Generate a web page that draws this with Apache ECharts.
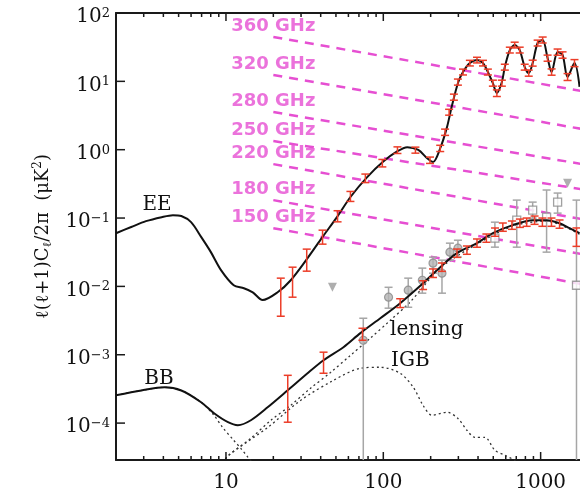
<!DOCTYPE html>
<html><head><meta charset="utf-8">
<script src="https://cdn.jsdelivr.net/npm/echarts@6/dist/echarts.min.js"></script>
<style>html,body{margin:0;padding:0;background:#fff}#c{width:580px;height:492px}</style>
</head><body><div id="c"></div>
<script>
// ---- axis ranges & ticks ----
const X_MIN = 2, X_MAX = 2000;
const Y_MIN = 2.884e-5, Y_MAX = 100;
const xMajorTicks = [10, 100, 1000];
const xTickLabels = ['10', '100', '1000'];
const xMinorTicks = [3,4,5,6,7,8,9,20,30,40,50,60,70,80,90,200,300,400,500,600,700,800,900];
const yTickExps = [-4, -3, -2, -1, 0, 1, 2];

// ---- EE spectrum (solid) ----
const eeL = [2,2.5,3.1,3.9,4.6,5.2,6.0,6.95,8.0,9.3,11.2,13.0,14.8,17.1,21.3,25.8,33,41,51,62,79,100,123,142,167,190,207,230,254,273,299,321,355,394,430,462,497,527,567,592,637,684,736,792,840,890,957,1030,1107,1174,1282,1378,1483,1641,1767];
const eeV = [0.060,0.074,0.090,0.103,0.110,0.107,0.087,0.053,0.032,0.0173,0.0104,0.0094,0.0082,0.0063,0.0082,0.0123,0.0259,0.0525,0.105,0.205,0.397,0.67,0.95,1.09,0.99,0.75,0.66,1.05,2.14,4.4,9.6,13.7,18.5,20.5,18.5,13.7,9.4,6.74,9.8,16.2,28.7,34.0,28.7,16.2,13.2,18.5,36.4,40.3,21.9,13.7,26.8,24.3,11.6,18.5,8.3];

// ---- BB spectrum (solid) ----
const bbL = [2,2.9,4.06,5.2,6.95,8.4,10.3,11.9,14.4,18.4,24.7,33,41.7,55.8,71.5,95.7,128,179,230,294,394,497,665,890,1091,1319,1527,1767];
const bbV = [2.55e-4,3.0e-4,3.34e-4,3.0e-4,2.02e-4,1.39e-4,1.03e-4,9.3e-5,1.10e-4,1.70e-4,3.02e-4,5.36e-4,8.3e-4,1.29e-3,2.07e-3,3.42e-3,5.68e-3,0.0111,0.0191,0.0306,0.0430,0.0601,0.0787,0.093,0.093,0.0841,0.0711,0.0601];

// ---- dotted components ----
const tensorL = [2,2.9,4.06,5.2,6.95,8.4,9.5,11.2,12.4,13.8,15];
const tensorV = [2.55e-4,3.0e-4,3.34e-4,3.0e-4,2.02e-4,1.3e-4,8.7e-5,5.6e-5,4.3e-5,3.16e-5,2.5e-5];
const lensL = [9.5,10.4,14.4,19.3,25.8,34.5,46.2,61.8,82.8,111,148,230,394,665,1091,1767];
const lensV = [2.6e-5,3.38e-5,6.0e-5,1.1e-4,1.82e-4,3.24e-4,5.5e-4,9.8e-4,1.75e-3,3.2e-3,5.9e-3,0.0185,0.0415,0.076,0.090,0.058];
const igbL = [9.5,10.4,18.5,29.9,48.3,71.5,95.7,128,155,179,204,254,298,340,382,442,512,592,684,750];
const igbV = [2.6e-5,3.38e-5,8.7e-5,2.16e-4,4.23e-4,6.34e-4,6.56e-4,5.36e-4,3.34e-4,1.82e-4,1.30e-4,1.44e-4,1.17e-4,7.85e-5,6.2e-5,6.2e-5,4.0e-5,3.4e-5,2.85e-5,2.5e-5];

// ---- red forecast error bars ----
const eeBinL  = [22.3,26.5,32.6,41.1,51.2,61.8,76.9,98.6,123,160,198,230,247,262,281,298,321,355,394,430,462,497,527,567,592,637,684,736,792,840,890,957,1030,1107,1174,1282,1378,1483,1641];
const eeBinLo = [0.00366,0.00695,0.0167,0.0415,0.088,0.175,0.33,0.56,0.88,0.89,0.63,0.94,1.62,3.2,5.3,8.8,12.4,16.8,18.6,16.8,12.4,8.5,6.0,8.5,14.6,26.0,30.8,26.0,14.6,11.9,16.7,32.9,36.4,19.7,12.3,24.1,21.8,10.3,16.4];
const eeBinHi = [0.0132,0.0191,0.0351,0.0665,0.128,0.245,0.44,0.72,1.10,1.09,0.78,1.16,2.0,3.9,6.5,10.8,15.1,20.3,22.5,20.3,15.1,10.4,7.5,10.4,17.8,31.6,37.4,31.6,17.8,14.6,20.4,40.1,44.5,24.2,15.2,29.7,27.0,13.0,20.8];
const bbBinL  = [24.7,41.7,73.7,128,179,207,236,294,340,394,452,513,575,657,738,815,915,1026,1172,1319,1690];
const bbBinLo = [1.03e-4,5.36e-4,1.63e-3,4.9e-3,0.0090,0.0135,0.0166,0.0266,0.0295,0.0374,0.0442,0.0541,0.064,0.0684,0.073,0.0757,0.0809,0.0757,0.0757,0.0709,0.0385];
const bbBinHi = [5.0e-4,1.09e-3,2.44e-3,6.6e-3,0.0121,0.018,0.022,0.0352,0.039,0.0494,0.0584,0.0715,0.0846,0.0905,0.0966,0.100,0.107,0.100,0.100,0.0937,0.0716];

// ---- grey measurements ----
const grayL  = [74.6,108,144,177,207,236,265,298,512,705,890,1091,1282,1690];
const grayV  = [1.63e-3,6.95e-3,8.8e-3,0.0123,0.0219,0.0156,0.0317,0.0362,0.0508,0.093,0.131,0.103,0.171,0.0104];
const grayLo = [Y_MIN,4.8e-3,4.95e-3,7.96e-3,0.0156,7.96e-3,0.0242,0.0268,0.0375,0.0375,0.0997,0.0317,0.118,Y_MIN];
const grayHi = [3.42e-3,9.7e-3,0.0132,0.0185,0.0268,0.0242,0.0429,0.0474,0.087,0.183,0.171,0.257,0.232,0.183];
const grayOpen = [0,0,0,0,0,0,0,0,1,1,1,1,1,1];
const limitL = [47.5, 1483];
const limitV = [9.7e-3, 0.324];

// ---- foreground levels (magenta dashed) ----
const fgNames = ['360 GHz','320 GHz','280 GHz','250 GHz','220 GHz','180 GHz','150 GHz'];
const fgL = [20, 2000];
const fgStart = [44.5, 12.4, 3.55, 1.34, 0.615, 0.183, 0.0711];
const fgEnd   = [6.97, 1.94, 0.596, 0.256, 0.093, 0.0286, 0.0104];

// ---- styling ----
const SERIF = "'DejaVu Serif', serif";
const MAG = '#e64fd2';
const RED = '#ec3d28';
const GRAY = '#a6a6a6';
const AX = '#1a1a1a';

const pairs = (a, b) => a.map((v, i) => [v, b[i]]);
const lg = v => Math.log10(v);

function barRenderer(color, cap, width) {
  return function (params, api) {
    const l = api.value(0), lo = api.value(1), hi = api.value(2);
    const top = api.coord([l, hi]);
    const bot = api.coord([l, Math.max(lo, Y_MIN)]);
    const st = { stroke: color, lineWidth: width };
    const ch = [
      { type: 'line', shape: { x1: top[0], y1: top[1], x2: bot[0], y2: bot[1] }, style: st },
      { type: 'line', shape: { x1: top[0] - cap, y1: top[1], x2: top[0] + cap, y2: top[1] }, style: st }
    ];
    if (lo > Y_MIN * 1.0001) ch.push({ type: 'line', shape: { x1: bot[0] - cap, y1: bot[1], x2: bot[0] + cap, y2: bot[1] }, style: st });
    return { type: 'group', children: ch };
  };
}

const helperX = (pos, showLabel) => ({
  type: 'value', gridIndex: 0, position: pos, min: lg(X_MIN), max: lg(X_MAX),
  axisLine: { show: true, onZero: false, lineStyle: { color: AX, width: 2 } },
  axisTick: { show: false },
  axisLabel: showLabel ? {
    show: true, customValues: xMajorTicks.map(lg), margin: 13,
    fontFamily: SERIF, fontSize: 20, color: '#111',
    formatter: v => { const i = xMajorTicks.findIndex(t => Math.abs(lg(t) - v) < 1e-6); return i >= 0 ? xTickLabels[i] : ''; }
  } : { show: false },
  splitLine: { show: false }
});

const series = [];
fgNames.forEach((n, i) => {
  series.push({ type: 'line', data: [[fgL[0], fgStart[i]], [fgL[1], fgEnd[i]]], symbol: 'none', silent: true,
    lineStyle: { color: MAG, width: 2.5, type: [9, 7] }, z: 2 });
});
series.push({ type: 'scatter', symbolSize: 1, itemStyle: { color: 'rgba(0,0,0,0)' }, z: 3,
  data: fgNames.map((n, i) => ({ name: n, value: [fgL[0], fgStart[i]] })),
  label: { show: true, position: 'inside', offset: [0, -11], formatter: '{b}', color: MAG, fontSize: 18, fontWeight: 'bold', fontFamily: "'DejaVu Sans', sans-serif" } });
series.push({ type: 'line', data: pairs(tensorL, tensorV), symbol: 'none', smooth: 0.3, lineStyle: { color: '#333', width: 1.3, type: [2, 3] }, z: 3 });
series.push({ type: 'line', data: pairs(lensL, lensV), symbol: 'none', smooth: 0.3, lineStyle: { color: '#333', width: 1.3, type: [2, 3] }, z: 3 });
series.push({ type: 'line', data: pairs(igbL, igbV), symbol: 'none', smooth: 0.3, lineStyle: { color: '#333', width: 1.3, type: [2, 3] }, z: 3 });
series.push({ type: 'custom', renderItem: barRenderer(GRAY, 4, 1.5), encode: { x: 0, y: [1, 2] }, z: 4,
  data: grayL.map((l, i) => [l, grayLo[i], grayHi[i]]) });
series.push({ type: 'scatter', z: 5,
  data: grayL.map((l, i) => ({ value: [l, grayV[i]], symbol: grayOpen[i] ? 'rect' : 'circle', symbolSize: 8,
    itemStyle: grayOpen[i] ? { color: '#fff', borderColor: '#8a8a8a', borderWidth: 1.3 } : { color: '#b4b4b4', borderColor: '#8a8a8a', borderWidth: 1.2 } })) });
series.push({ type: 'scatter', z: 5, symbol: 'triangle', symbolRotate: 180, symbolSize: 9,
  itemStyle: { color: '#9a9a9a' }, data: pairs(limitL, limitV) });
series.push({ type: 'line', data: pairs(eeL, eeV), symbol: 'none', smooth: 0.3, lineStyle: { color: '#111', width: 2 }, z: 6 });
series.push({ type: 'line', data: pairs(bbL, bbV), symbol: 'none', smooth: 0.3, lineStyle: { color: '#111', width: 2 }, z: 6 });
series.push({ type: 'custom', renderItem: barRenderer(RED, 4, 1.5), encode: { x: 0, y: [1, 2] }, z: 7,
  data: eeBinL.map((l, i) => [l, eeBinLo[i], eeBinHi[i]]) });
series.push({ type: 'custom', renderItem: barRenderer(RED, 4, 1.5), encode: { x: 0, y: [1, 2] }, z: 7,
  data: bbBinL.map((l, i) => [l, bbBinLo[i], bbBinHi[i]]) });

const textGraphics = [
  { type: 'text', x: 157, y: 205, z: 50, style: { text: 'EE', font: "20px 'DejaVu Serif'", fill: '#111', textAlign: 'center', textVerticalAlign: 'middle' } },
  { type: 'text', x: 159, y: 379, z: 50, style: { text: 'BB', font: "20px 'DejaVu Serif'", fill: '#111', textAlign: 'center', textVerticalAlign: 'middle' } },
  { type: 'text', x: 390, y: 330, z: 50, style: { text: 'lensing', font: "20px 'DejaVu Serif'", fill: '#111', textAlign: 'left', textVerticalAlign: 'middle' } },
  { type: 'text', x: 391, y: 361, z: 50, style: { text: 'IGB', font: "20px 'DejaVu Serif'", fill: '#111', textAlign: 'left', textVerticalAlign: 'middle' } }
];

const option = {
  animation: false,
  backgroundColor: '#fff',
  grid: { left: 116, top: 13, width: 472, height: 447, containLabel: false, outerBoundsMode: 'none' },
  xAxis: [
    { type: 'log', logBase: 10, min: X_MIN, max: X_MAX, show: false },
    helperX('bottom', true),
    helperX('top', false)
  ],
  yAxis: [
    { type: 'log', logBase: 10, min: Y_MIN, max: Y_MAX, show: false },
    { type: 'value', position: 'left', min: lg(Y_MIN), max: lg(Y_MAX),
      axisLine: { show: true, onZero: false, lineStyle: { color: AX, width: 2 } },
      axisTick: { show: false },
      axisLabel: { show: true, customValues: yTickExps, margin: 6, padding: [8, 0, 0, 0],
        formatter: v => { const e = Math.round(v); return '{b|10}{s|' + (e < 0 ? '\u2212' + (-e) : String(e)) + '}'; },
        rich: { b: { fontFamily: SERIF, fontSize: 20, color: '#111', lineHeight: 20, verticalAlign: 'middle' },
                s: { fontFamily: SERIF, fontSize: 13, color: '#111', lineHeight: 20, verticalAlign: 'top' } } },
      splitLine: { show: false },
      name: '{a|\u2113(\u2113+1)C}{b|\u2113}{a|/2\u03c0  (\u03bcK}{c|2}{a|)}',
      nameLocation: 'middle', nameRotate: 90, nameGap: 62,
      nameTextStyle: { rich: {
        a: { fontFamily: SERIF, fontSize: 18, color: '#111', lineHeight: 22, verticalAlign: 'middle' },
        b: { fontFamily: SERIF, fontSize: 12, color: '#111', lineHeight: 22, verticalAlign: 'bottom' },
        c: { fontFamily: SERIF, fontSize: 12, color: '#111', lineHeight: 22, verticalAlign: 'top' } } }
    }
  ],
  graphic: textGraphics,
  series: series
};
const chart = echarts.init(document.getElementById('c'), null, { renderer: 'canvas' });
chart.setOption(option);

// inward frame ticks, positioned through the chart's own log axes
const toPx = (x, y) => chart.convertToPixel({ xAxisIndex: 0, yAxisIndex: 0 }, [x, y]);
const tickEls = [];
const tickStyle = { stroke: AX, lineWidth: 1.5 };
function addXTicks(values, len) {
  values.forEach(v => {
    const b = toPx(v, Y_MIN), t = toPx(v, Y_MAX);
    tickEls.push({ type: 'line', z: 60, silent: true, shape: { x1: b[0], y1: b[1], x2: b[0], y2: b[1] - len }, style: tickStyle });
    tickEls.push({ type: 'line', z: 60, silent: true, shape: { x1: t[0], y1: t[1], x2: t[0], y2: t[1] + len }, style: tickStyle });
  });
}
addXTicks(xMajorTicks, 8);
addXTicks(xMinorTicks, 4);
yTickExps.forEach(e => {
  const p = toPx(X_MIN, Math.pow(10, e));
  tickEls.push({ type: 'line', z: 60, silent: true, shape: { x1: p[0], y1: p[1], x2: p[0] + 9, y2: p[1] }, style: tickStyle });
});
chart.setOption({ graphic: textGraphics.concat(tickEls) });
</script></body></html>
